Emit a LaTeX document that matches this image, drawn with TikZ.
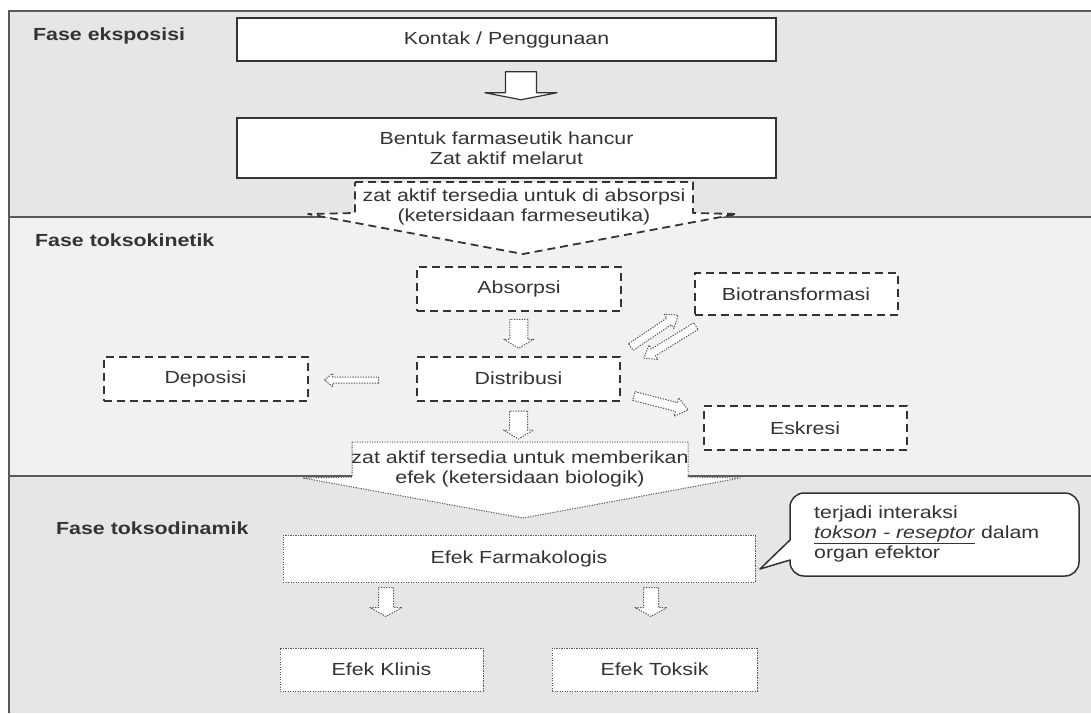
\documentclass[tikz,border=0pt]{standalone}
\usepackage{fontspec}
\setmainfont[FakeStretch=1.22]{Liberation Sans}
\usetikzlibrary{calc,patterns}
\definecolor{ink}{HTML}{333333}
\definecolor{frame}{HTML}{5A5A5A}
\definecolor{hatchbg}{HTML}{E6E6E6}
\definecolor{midbg}{HTML}{F1F1F1}
\definecolor{dotc}{HTML}{555555}
\newcommand\blockarr[7]{%
  \begin{scope}[shift={#2},rotate=#3]
    \draw[#1] ({-#4/2},{-#5}) -- ({#4/2-#7},{-#5}) -- ({#4/2-#7},{-#6}) -- ({#4/2},0)
      -- ({#4/2-#7},{#6}) -- ({#4/2-#7},{#5}) -- ({-#4/2},{#5}) -- cycle;
  \end{scope}}
\tikzset{
  txt/.style={font=\fontsize{17.5}{20}\selectfont, text=ink, inner sep=0pt},
  phase/.style={txt, font=\fontsize{17.5}{20}\selectfont\bfseries, anchor=west},
  solidbox/.style={txt, draw=ink, line width=1.5pt, fill=white},
  dashbox/.style={txt, draw=ink, line width=2pt, dash pattern=on 8pt off 5pt, fill=white},
  dotbox/.style={txt, draw=dotc, line width=1pt, dash pattern=on 1.2pt off 1.3pt, fill=white},
  solidarr/.style={draw=ink, line width=1.2pt, fill=white, line join=round},
  dotarr/.style={draw=dotc, line width=1pt, dash pattern=on 1.3pt off 1.3pt, fill=white, line join=round},
  calloutdash/.style={draw=ink, line width=1.8pt, dash pattern=on 8pt off 5pt, fill=white, line join=round},
  calloutdot/.style={draw=dotc, line width=1pt, dash pattern=on 1.2pt off 1.3pt, fill=white, line join=round},
}
\begin{document}
\begin{tikzpicture}[x=1pt,y=-1pt]
\useasboundingbox (0,0) rectangle (1091,713);
\fill[white] (0,0) rectangle (1091,713);
% section backgrounds
\fill[hatchbg] (9,11) rectangle (1091,217);
\fill[midbg] (9,217) rectangle (1091,476);
\fill[hatchbg] (9,476) rectangle (1091,713);
% frame and dividers
\draw[frame, line width=2pt] (9,713) -- (9,11) -- (1091,11);
\draw[frame, line width=2pt] (9,217) -- (1091,217);
\draw[frame, line width=2pt] (9,476) -- (1091,476);

% phase labels
\node[phase] (p1) at (33,36) {Fase eksposisi};
\node[phase] (p2) at (35,240) {Fase toksokinetik};
\node[phase] (p3) at (56,528) {Fase toksodinamik};

% exposure phase
\node[solidbox, minimum width=539pt, minimum height=43pt] (kontak) at (506.5,39.5) {Kontak / Penggunaan};
\node[solidbox, minimum width=539pt, minimum height=60pt, align=center] (bentuk) at (506.5,148) {Bentuk farmaseutik hancur\\Zat aktif melarut};
\blockarr{solidarr}{($(kontak.south)+(14.5,24)$)}{-90}{28}{15.5}{36}{7}

% callout 1
\draw[calloutdash] (355,182) -- (693,182) -- (693,213) -- (737,214) -- (523,254) -- (308,214) -- (355,213) -- cycle;
\node[txt, align=center] (ca) at (524,207) {zat aktif tersedia untuk di absorpsi\\(ketersidaan farmeseutika)};

% toxicokinetic phase
\node[dashbox, minimum width=204pt, minimum height=44pt] (absorpsi) at (519,289) {Absorpsi};
\node[dashbox, minimum width=203pt, minimum height=42pt] (biotrans) at (796,294) {Biotransformasi};
\node[dashbox, minimum width=203pt, minimum height=44pt] (distribusi) at (518.5,378.5) {Distribusi};
\node[dashbox, minimum width=204pt, minimum height=44pt] (deposisi) at (205.5,378.5) {Deposisi};
\node[dashbox, minimum width=203pt, minimum height=44pt] (eskresi) at (805,428) {Eskresi};

\blockarr{dotarr}{($(absorpsi.south)!0.5!(distribusi.north)$)}{-90}{29}{9}{15}{9}
\blockarr{dotarr}{($(deposisi.east)!0.4!(distribusi.west)+(0,1.5)$)}{180}{54}{3}{6.5}{8}
\blockarr{dotarr}{($(distribusi.north east)+(33.5,-24.4)$)}{34}{57}{4}{8.5}{11}
\blockarr{dotarr}{($(distribusi.north east)+(49,-13.4)$)}{211.6}{61}{4}{8.5}{11}
\blockarr{dotarr}{($(distribusi.south east)+(40,1.5)$)}{-14.5}{56}{4.5}{9.5}{12}
\blockarr{dotarr}{($(distribusi.south)+(0,23.5)$)}{-90}{28}{9}{15}{9}

% callout 2
\draw[calloutdot] (352,442) -- (688,442) -- (688,477) -- (740,478) -- (523,518) -- (303,478) -- (352,477) -- cycle;
\node[txt, align=center] (cb) at (520,469) {zat aktif tersedia untuk memberikan\\efek (ketersidaan biologik)};

% toxicodynamic phase
\node[dotbox, minimum width=472pt, minimum height=47pt] (efekf) at (519,558.5) {Efek Farmakologis};
\node[dotbox, minimum width=203pt, minimum height=43pt] (klinis) at (381.5,669.5) {Efek Klinis};
\node[dotbox, minimum width=205pt, minimum height=43pt] (toksik) at (654.5,669.5) {Efek Toksik};
\blockarr{dotarr}{($(efekf.south)+(-133,19.5)$)}{-90}{29}{7.5}{16}{9}
\blockarr{dotarr}{($(efekf.south)+(132,19.5)$)}{-90}{29}{7.5}{16}{9}

% speech bubble
\draw[draw=ink, line width=1.5pt, fill=white, line join=round]
  (790,540) [rounded corners=14pt] -- (790,493) -- (1079,493) -- (1079,576) -- (790,576)
  [sharp corners] -- (790,560) -- (760,569) -- cycle;
\node[txt, anchor=west, align=left] (bubble) at (814,534)
  {terjadi interaksi\\\underline{\textit{tokson - reseptor}} dalam\\organ efektor};
\coordinate (tip) at (760,569);
\end{tikzpicture}
\end{document}
